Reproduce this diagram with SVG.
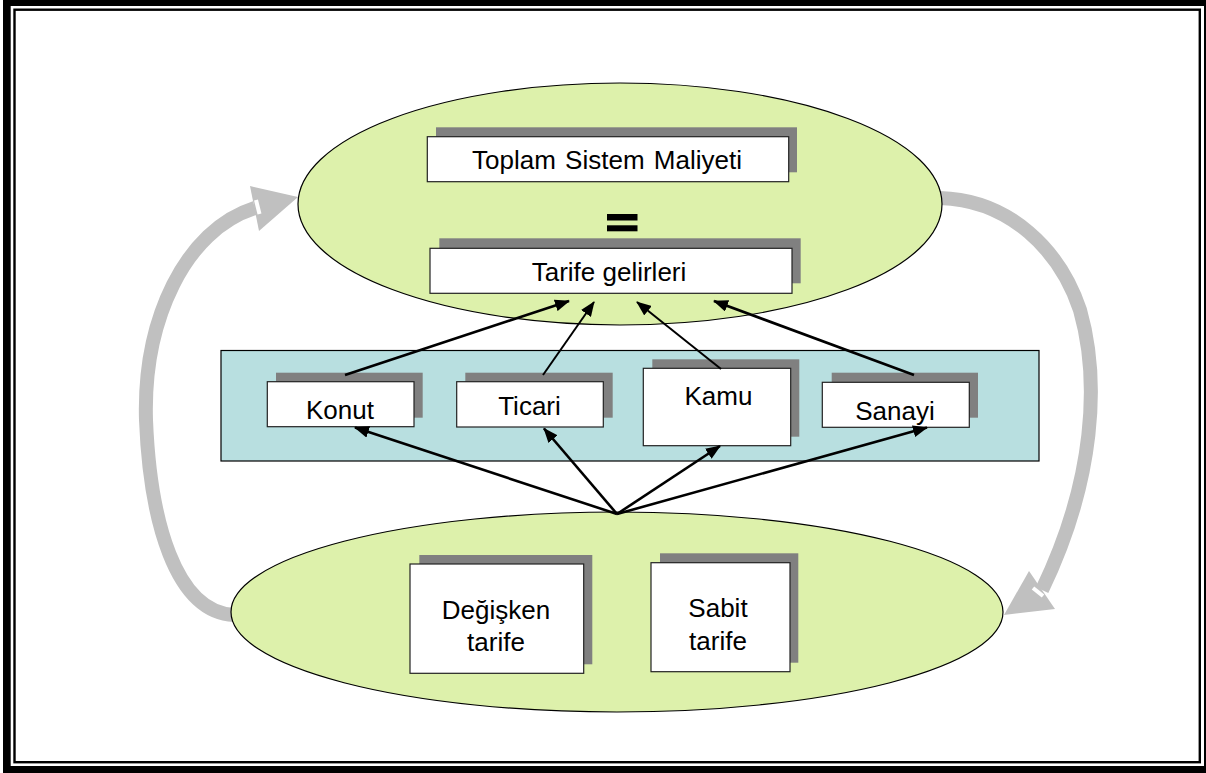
<svg xmlns="http://www.w3.org/2000/svg" width="1206" height="773" viewBox="0 0 1206 773">
<style>
.ell{fill:#DDF1AB;stroke:#000;stroke-width:1.2}
.sh{fill:#808080}
.bx{fill:#fff;stroke:#222;stroke-width:1.2}
.t{font-family:"Liberation Sans",Arial,sans-serif;font-size:26px;fill:#000;text-anchor:middle}
.ln{stroke:#000;stroke-width:2.6;fill:none;marker-end:url(#ah)}
.ln2{stroke:#000;stroke-width:2;fill:none;marker-end:url(#ah)}
.ga{stroke:#C0C0C0;stroke-width:14;fill:none}
</style>
<defs>
<marker id="ah" markerUnits="userSpaceOnUse" markerWidth="16" markerHeight="12" refX="14" refY="6" orient="auto">
<path d="M0,0 L15,6 L0,12 z" fill="#000"/>
</marker>
</defs>
<g id="frame">
<rect x="3" y="0" width="1203" height="773" fill="#000"/>
<rect x="10.7" y="6" width="1193.3" height="760" fill="#fff"/>
<rect x="14.5" y="9.7" width="1185.3" height="752.5" fill="#fff" stroke="#000" stroke-width="2.4"/>
</g>
<g id="cycle-arrows">
<path class="ga" d="M234,615 C175,612 150,520 146,420 C143,320 185,230 255,208"/>
<polygon points="298,197 250,186 259,231" fill="#C0C0C0"/>
<line x1="256" y1="200" x2="259.5" y2="214" stroke="#fff" stroke-width="4"/>
<path class="ga" d="M940,198 C1010,200 1060,250 1080,310 C1100,380 1095,480 1042,590"/>
<polygon points="1004,615 1029,571 1055,609" fill="#C0C0C0"/>
<line x1="1033" y1="588" x2="1043" y2="596" stroke="#fff" stroke-width="4"/>
</g>
<g id="top-ellipse">
<ellipse class="ell" cx="620" cy="204" rx="322" ry="121"/>
</g>
<g id="toplam">
<rect class="sh" x="436" y="127.3" width="361" height="45"/>
<rect class="bx" x="427.3" y="136.7" width="361.4" height="45"/>
<text class="t" x="607" y="169.3" word-spacing="2">Toplam Sistem Maliyeti</text>
</g>
<g id="equals">
<rect x="607" y="214" width="30.5" height="6.5" fill="#000"/>
<rect x="607" y="225.3" width="30.5" height="6" fill="#000"/>
</g>
<g id="tarife-gelirleri">
<rect class="sh" x="439.3" y="238.3" width="361.4" height="45"/>
<rect class="bx" x="430" y="248.3" width="362" height="45"/>
<text class="t" x="609" y="281">Tarife gelirleri</text>
</g>
<g id="sectors">
<rect x="221" y="350.5" width="818" height="110.5" fill="#B8DFE0" stroke="#000" stroke-width="1.2"/>
</g>
<g id="konut">
<rect class="sh" x="276" y="372.7" width="146.7" height="45"/>
<rect class="bx" x="267.3" y="381.7" width="146.7" height="45"/>
<text class="t" x="340" y="419.3">Konut</text>
</g>
<g id="ticari">
<rect class="sh" x="465.3" y="372.7" width="147.4" height="45"/>
<rect class="bx" x="456.7" y="381.7" width="146.6" height="45.3"/>
<text class="t" x="529.5" y="415">Ticari</text>
</g>
<g id="kamu">
<rect class="sh" x="652.3" y="359.3" width="147" height="77.4"/>
<rect class="bx" x="643.3" y="368.3" width="147.4" height="77.4"/>
<text class="t" x="718.5" y="405">Kamu</text>
</g>
<g id="sanayi">
<rect class="sh" x="831.7" y="372.7" width="146.3" height="45"/>
<rect class="bx" x="822.3" y="382.3" width="147" height="45"/>
<text class="t" x="895" y="420">Sanayi</text>
</g>
<g id="bottom-ellipse">
<ellipse class="ell" cx="617" cy="612" rx="386" ry="100"/>
</g>
<g id="degisken">
<rect class="sh" x="419.3" y="555" width="173" height="109.3"/>
<rect class="bx" x="410" y="564" width="173.7" height="109.3"/>
<text class="t" x="496" y="619">Değişken</text>
<text class="t" x="496" y="651">tarife</text>
</g>
<g id="sabit">
<rect class="sh" x="660" y="553.3" width="138.3" height="109.4"/>
<rect class="bx" x="651" y="562.7" width="139" height="109"/>
<text class="t" x="718" y="617.3">Sabit</text>
<text class="t" x="718" y="650">tarife</text>
</g>
<g id="connectors">
<line class="ln" x1="345" y1="375" x2="569" y2="301"/>
<line class="ln2" x1="543" y1="375" x2="594" y2="302"/>
<line class="ln2" x1="721" y1="369" x2="637" y2="302"/>
<line class="ln" x1="914" y1="375" x2="714" y2="301"/>
<line class="ln" x1="617" y1="514" x2="355" y2="427.5"/>
<line class="ln" x1="617" y1="514" x2="544" y2="428.5"/>
<line class="ln" x1="617" y1="514" x2="720" y2="446"/>
<line class="ln" x1="617" y1="514" x2="927" y2="427.5"/>
</g>
</svg>
